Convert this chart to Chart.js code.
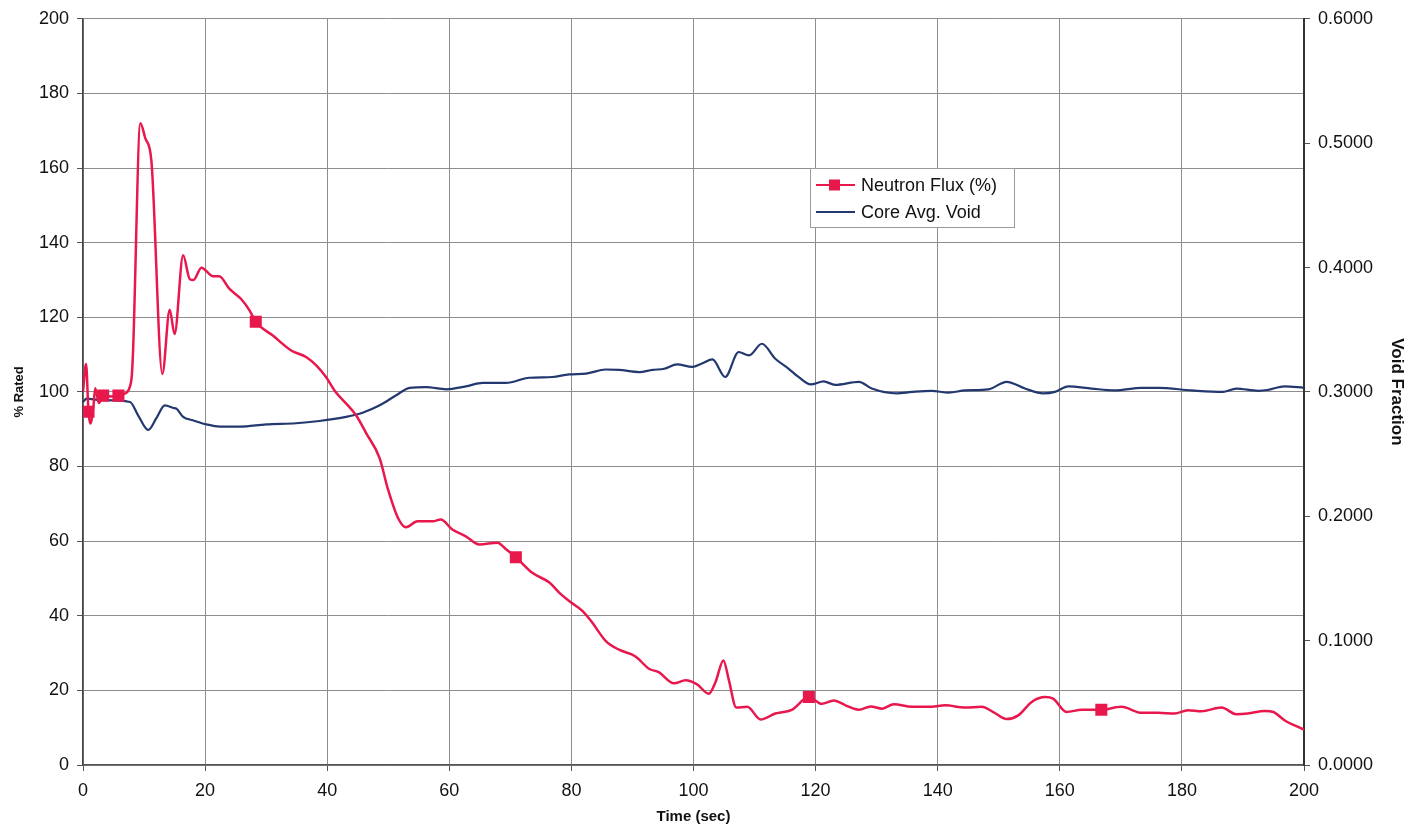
<!DOCTYPE html>
<html>
<head>
<meta charset="utf-8">
<title>Neutron Flux and Core Void</title>
<script src="https://cdn.jsdelivr.net/npm/chart.js@4.4.1/dist/chart.umd.min.js"></script>
<style>
    html, body { margin: 0; padding: 0; background: #fff; }
    #wrap { width: 1411px; height: 830px; }
</style>
</head>
<body>
<div id="wrap"><canvas id="flux_chart" width="1411" height="830"></canvas></div>
<script>
// neutron flux, % of rated
const flux_time = [0, 0.5, 0.9, 1.2, 1.7, 2.0, 2.6, 3.3, 4.5, 5.8, 6.8, 7.6, 8.0, 8.2, 9.4, 10.2, 11.2, 13.0,
    14.2, 15.0, 16.4, 17.5, 18.1, 19.4, 21.3, 22.3, 24.0, 25.9, 27.3, 28.3, 31.1, 34.1, 36.6, 38.2, 39.8, 41.2,
    44.7, 46.4, 48.6, 49.9, 51.6, 52.9, 54.8, 57.3, 58.6, 60.5, 62.7, 64.9, 67.9, 69.3, 70.9, 73.6, 76.4, 78.0,
    79.9, 81.8, 83.4, 85.6, 87.8, 90.5, 92.7, 94.3, 96.8, 98.7, 100.6, 102.5, 103.6, 104.9, 105.8, 107.0, 108.8,
    111.0, 113.4, 116.1, 118.9, 121.0, 123.0, 124.9, 127.1, 129.0, 130.9, 132.8, 135.8, 139.0, 141.2, 144.5,
    147.2, 149.1, 151.3, 153.2, 155.4, 157.6, 158.9, 161.1, 163.6, 166.8, 170.1, 173.4, 176.1, 178.8, 181.0,
    183.2, 186.5, 188.9, 190.8, 193.6, 195.0, 196.8, 200];
const flux_value = [100, 107.5, 94.7, 91.5, 96, 101, 97, 99, 98.8, 99, 99.5, 101, 104.5, 111, 172, 168, 162, 104.8,
    122, 115.5, 136.6, 130.2, 130, 133.3, 131, 131, 127.6, 124.9, 121.8, 118.8, 115.1, 111.1, 109.3, 107.1, 104, 100.4,
    93.8, 88.9, 82.2, 74.2, 66.2, 63.7, 65.3, 65.3, 65.8, 63.1, 61.3, 59.1, 59.6, 57.8, 55.7, 51.5, 48.9, 46.2,
    43.6, 41.3, 38.2, 33.3, 30.9, 29.1, 25.8, 24.9, 21.9, 22.7, 21.6, 19.1, 22.2, 28, 22.7, 15.4, 15.6,
    12.2, 13.8, 14.8, 18.2, 16.4, 17.3, 16, 14.8, 15.7, 15.1, 16.3, 15.6, 15.6, 16, 15.4,
    15.6, 14.2, 12.3, 13.3, 16.9, 18.2, 17.8, 14.2, 14.8, 14.8, 15.6, 14, 14, 13.8, 14.7,
    14.4, 15.4, 13.6, 13.8, 14.5, 14.2, 12, 9.5];
// times where the flux curve carries a square marker
const flux_marker_time = [0.9, 3.3, 5.8, 28.3, 70.9, 118.9, 166.8];

// core average void fraction
const void_time = [0, 0.6, 2.8, 7.7, 9.0, 10.7, 12.0, 13.4, 14.8, 15.3, 16.4, 18.0, 20.2, 22.4, 25.7, 30.0, 34.9,
    38.7, 43.1, 45.8, 48.6, 51.3, 53.5, 56.2, 59.5, 62.7, 65.5, 69.3, 73.1, 76.9, 79.6, 82.4, 85.6, 87.8, 91.1,
    93.3, 95.2, 97.3, 99.8, 101.4, 103.1, 105.2, 107.4, 109.1, 111.2, 113.4, 115.6, 117.2, 119.2, 121.3, 123.2,
    127.1, 129.2, 133.3, 135.8, 139.0, 141.8, 144.5, 148.3, 151.3, 154.3, 157.3, 159.2, 161.4, 165.2, 169.0,
    173.4, 176.1, 181.6, 186.7, 188.9, 192.5, 194.0, 196.8, 200];
const void_value = [0.2919, 0.2946, 0.2934, 0.2919, 0.2814, 0.2694, 0.2787, 0.2892, 0.2871, 0.2865, 0.2799, 0.2772,
    0.2739, 0.2721, 0.2721, 0.2739, 0.2748, 0.2766, 0.2799, 0.2832, 0.2892, 0.2973, 0.3033, 0.3039, 0.3021, 0.3045,
    0.3072, 0.3072, 0.3114, 0.3120, 0.3141, 0.3147, 0.3180, 0.3177, 0.3159, 0.3177, 0.3186, 0.3222, 0.3201, 0.3228,
    0.3261, 0.3120, 0.3321, 0.3294, 0.3387, 0.3267, 0.3186, 0.3120, 0.3060, 0.3084, 0.3057, 0.3081, 0.3027, 0.2988,
    0.3000, 0.3009, 0.2994, 0.3012, 0.3021, 0.3081, 0.3027, 0.2988, 0.3000, 0.3045, 0.3027, 0.3012, 0.3033, 0.3033,
    0.3012, 0.3000, 0.3027, 0.3009, 0.3015, 0.3045, 0.3033];

const flux_color = "#e8174c";
const void_color = "#22386e";
const grid_color = "#8e8e8e";
const font_family = "'Liberation Sans', Arial, sans-serif";

const flux_points = flux_time.map((t, i) => ({ x: t, y: flux_value[i] }));
const void_points = void_time.map((t, i) => ({ x: t, y: void_value[i] }));

// legend box sitting inside the plot
const boxLegend = {
    id: 'boxLegend',
    afterDraw(chart) {
        const ctx = chart.ctx;
        const sets = chart.data.datasets;
        const x0 = 810, y0 = 168, w = 204, h = 59;
        ctx.save();
        ctx.fillStyle = "#fff";
        ctx.fillRect(x0, y0, w, h);
        ctx.strokeStyle = "#9a9a9a";
        ctx.lineWidth = 1;
        ctx.strokeRect(x0 + 0.5, y0 + 0.5, w, h);
        ctx.font = "18px " + font_family;
        ctx.textBaseline = "middle";
        sets.forEach((ds, i) => {
            const y = y0 + 17 + i * 27;
            ctx.strokeStyle = ds.borderColor;
            ctx.lineWidth = 2;
            ctx.beginPath();
            ctx.moveTo(x0 + 6, y);
            ctx.lineTo(x0 + 45, y);
            ctx.stroke();
            if (i === 0) {
                ctx.fillStyle = ds.borderColor;
                ctx.fillRect(x0 + 19, y - 5.5, 11, 11);
            }
            ctx.fillStyle = "#111";
            ctx.fillText(ds.label, x0 + 51, y + 1);
        });
        ctx.restore();
    }
};

new Chart(document.getElementById("flux_chart"), {
    type: 'line',
    data: {
        datasets: [{
            label: "Neutron Flux (%)",
            data: flux_points,
            yAxisID: 'y',
            borderColor: flux_color,
            backgroundColor: flux_color,
            borderWidth: 2.5,
            cubicInterpolationMode: 'monotone',
            pointStyle: 'rect',
            pointRadius: ctx => flux_marker_time.includes(flux_time[ctx.dataIndex]) ? 8.5 : 0,
            pointBorderWidth: 0,
            fill: false
        }, {
            label: "Core Avg. Void",
            data: void_points,
            yAxisID: 'y1',
            borderColor: void_color,
            backgroundColor: void_color,
            borderWidth: 2.2,
            cubicInterpolationMode: 'monotone',
            pointRadius: 0,
            fill: false
        }]
    },
    options: {
        responsive: false,
        animation: false,
        events: [],
        layout: { padding: { top: 16, left: 0, right: 0, bottom: 0 } },
        plugins: {
            legend: { display: false },
            tooltip: { enabled: false }
        },
        scales: {
            x: {
                type: 'linear',
                min: 0,
                max: 200,
                afterFit: s => { s.height = 65; },
                ticks: { stepSize: 20, color: "#111", padding: 9, font: { family: font_family, size: 18 } },
                grid: { color: grid_color, lineWidth: 1, tickLength: 6, tickColor: "#555" },
                border: { color: "#555", width: 1.5 },
                title: {
                    display: true, text: "Time (sec)", color: "#111",
                    padding: { top: 0, bottom: 4 },
                    font: { family: font_family, size: 15, weight: 'bold' }
                }
            },
            y: {
                position: 'left',
                min: 0,
                max: 200,
                afterFit: s => { s.width = 83; },
                ticks: { stepSize: 20, color: "#111", padding: 8, font: { family: font_family, size: 18 } },
                grid: { color: grid_color, lineWidth: 1, tickLength: 6, tickColor: "#555" },
                border: { color: "#444", width: 1.5 },
                title: {
                    display: true, text: "% Rated", color: "#111",
                    padding: { top: 12, bottom: 0 },
                    font: { family: font_family, size: 13, weight: 'bold' }
                }
            },
            y1: {
                position: 'right',
                min: 0,
                max: 0.6,
                afterFit: s => { s.width = 107; },
                ticks: {
                    stepSize: 0.1, color: "#111", padding: 8,
                    font: { family: font_family, size: 18 },
                    callback: v => v.toFixed(4)
                },
                grid: { drawOnChartArea: false, tickLength: 6, tickColor: "#555" },
                border: { color: "#333", width: 2 },
                title: {
                    display: true, text: "Void Fraction", color: "#111",
                    padding: { top: 4, bottom: 0 },
                    font: { family: font_family, size: 17, weight: 'bold' }
                }
            }
        }
    },
    plugins: [boxLegend]
});
</script>
</body>
</html>
